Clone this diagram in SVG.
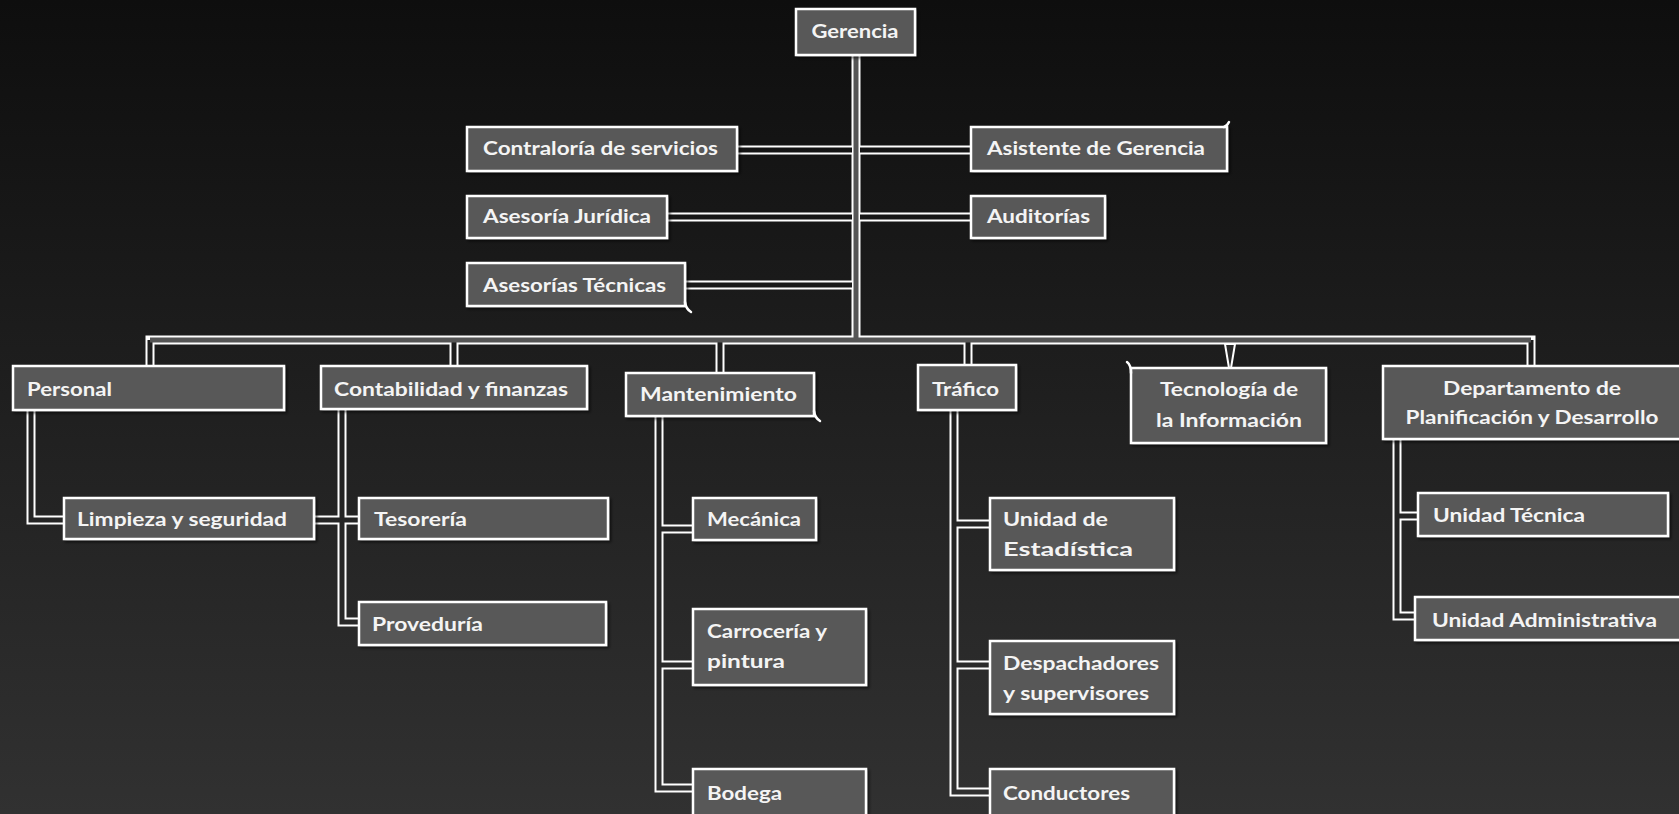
<svg xmlns="http://www.w3.org/2000/svg" width="1679" height="814" viewBox="0 0 1679 814">
<defs>
<linearGradient id="bg" gradientUnits="userSpaceOnUse" x1="0" y1="0" x2="0" y2="814">
<stop offset="0" stop-color="#0e0e0e"/>
<stop offset="1" stop-color="#313131"/>
</linearGradient>
<filter id="sh" x="-10%" y="-20%" width="130%" height="150%">
<feDropShadow dx="2" dy="2" stdDeviation="1.5" flood-color="#000" flood-opacity="0.6"/>
</filter>
</defs>
<style>
.box{fill:#595959;stroke:#ffffff;stroke-width:2.5;filter:url(#sh)}
.curl{fill:none;stroke:#ffffff;stroke-width:2.5;stroke-linecap:round}
.t{font-family:Lato,"Open Sans","Liberation Sans",sans-serif;font-weight:700;font-size:19px;fill:#f4f4f4}
.c{text-anchor:middle}
.out{fill:none;stroke:#ffffff;stroke-width:9;stroke-linejoin:miter}
.in{fill:none;stroke:url(#bg);stroke-width:5;stroke-linejoin:miter}
.ing{fill:none;stroke:#555555;stroke-width:5;stroke-linejoin:miter}
</style>
<rect x="0" y="0" width="1679" height="814" fill="url(#bg)"/>

<g id="connectors">
<g class="out">
<path d="M856 55 V340"/>
<path d="M150 367 V340 H1531 V367"/>
<path d="M454 340 V367"/>
<path d="M720 340 V373"/>
<path d="M968 340 V365"/>
<path d="M737 150 H856"/>
<path d="M856 150 H971"/>
<path d="M667 217 H856"/>
<path d="M856 217 H971"/>
<path d="M685 285 H856"/>
<path d="M31 410 V520 H64"/>
<path d="M314 520 H342"/>
<path d="M342 409 V622 H359"/>
<path d="M342 520 H359"/>
<path d="M659 416 V788 H693"/>
<path d="M659 529 H693"/>
<path d="M659 665 H693"/>
<path d="M954 410 V792 H990"/>
<path d="M954 524 H990"/>
<path d="M954 665 H990"/>
<path d="M1397 439 V616 H1415"/>
<path d="M1397 516 H1418"/>
</g>
<g class="in">
<path d="M454 340 V368"/>
<path d="M720 340 V374"/>
<path d="M968 340 V366"/>
<path d="M150 340 V368"/>
<path d="M1531 340 V368"/>
<path d="M737 150 H852"/>
<path d="M860 150 H972"/>
<path d="M667 217 H852"/>
<path d="M860 217 H972"/>
<path d="M685 285 H852"/>
<path d="M31 409 V520 H65"/>
<path d="M313 520 H342"/>
<path d="M342 408 V622 H360"/>
<path d="M342 520 H360"/>
<path d="M659 415 V788 H694"/>
<path d="M659 529 H694"/>
<path d="M659 665 H694"/>
<path d="M954 409 V792 H991"/>
<path d="M954 524 H991"/>
<path d="M954 665 H991"/>
<path d="M1397 438 V616 H1416"/>
<path d="M1397 516 H1419"/>
</g>
<g class="ing">
<path d="M856 54 V340"/>
<path d="M150 340 H1531"/>
</g>
<path d="M1225 344 L1229 368 L1231 368 L1235 344 Z" fill="#2a2a2a" stroke="#ffffff" stroke-width="2"/>
</g>

<g id="gerencia"><rect class="box" x="796" y="9" width="119" height="46"/><text class="t c" x="855" y="38" textLength="87" lengthAdjust="spacingAndGlyphs">Gerencia</text></g>
<g id="contraloria"><rect class="box" x="467" y="127" width="270" height="44"/><text class="t" x="483" y="155" textLength="235" lengthAdjust="spacingAndGlyphs">Contraloría de servicios</text></g>
<g id="asistente"><rect class="box" x="971" y="127" width="256" height="44"/><path class="curl" d="M1224 127 Q1227 126 1229 122"/><text class="t" x="987" y="155" textLength="218" lengthAdjust="spacingAndGlyphs">Asistente de Gerencia</text></g>
<g id="juridica"><rect class="box" x="467" y="196" width="200" height="42"/><text class="t" x="483" y="223" textLength="168" lengthAdjust="spacingAndGlyphs">Asesoría Jurídica</text></g>
<g id="auditorias"><rect class="box" x="971" y="196" width="134" height="42"/><text class="t" x="987" y="223" textLength="103" lengthAdjust="spacingAndGlyphs">Auditorías</text></g>
<g id="tecnicas"><rect class="box" x="467" y="263" width="218" height="43"/><path class="curl" d="M685 302 Q686 309 691 312"/><text class="t" x="483" y="292" textLength="183" lengthAdjust="spacingAndGlyphs">Asesorías Técnicas</text></g>

<g id="personal"><rect class="box" x="13" y="366" width="271" height="44"/><text class="t" x="27" y="396" textLength="85" lengthAdjust="spacingAndGlyphs">Personal</text></g>
<g id="contabilidad"><rect class="box" x="321" y="366" width="266" height="43"/><text class="t" x="334" y="396" textLength="234" lengthAdjust="spacingAndGlyphs">Contabilidad y finanzas</text></g>
<g id="mantenimiento"><rect class="box" x="626" y="373" width="188" height="43"/><path class="curl" d="M814 411 Q815 418 820 421"/><text class="t" x="640" y="401" textLength="157" lengthAdjust="spacingAndGlyphs">Mantenimiento</text></g>
<g id="trafico"><rect class="box" x="918" y="365" width="98" height="45"/><text class="t" x="932" y="396" textLength="67" lengthAdjust="spacingAndGlyphs">Tráfico</text></g>
<g id="tecnologia"><rect class="box" x="1131" y="368" width="195" height="75"/><path class="curl" d="M1131 373 Q1131 365 1127 362"/><text class="t c" x="1229" y="396" textLength="138" lengthAdjust="spacingAndGlyphs">Tecnología de</text><text class="t c" x="1229" y="427" textLength="146" lengthAdjust="spacingAndGlyphs">la Información</text></g>
<g id="departamento"><rect class="box" x="1383" y="366" width="305" height="73"/><text class="t c" x="1532" y="395" textLength="178" lengthAdjust="spacingAndGlyphs">Departamento de</text><text class="t c" x="1532" y="424" textLength="253" lengthAdjust="spacingAndGlyphs">Planificación y Desarrollo</text></g>

<g id="limpieza"><rect class="box" x="64" y="498" width="250" height="41"/><text class="t" x="77" y="526" textLength="210" lengthAdjust="spacingAndGlyphs">Limpieza y seguridad</text></g>
<g id="tesoreria"><rect class="box" x="359" y="498" width="249" height="41"/><text class="t" x="374" y="526" textLength="93" lengthAdjust="spacingAndGlyphs">Tesorería</text></g>
<g id="proveduria"><rect class="box" x="359" y="602" width="247" height="43"/><text class="t" x="372" y="631" textLength="111" lengthAdjust="spacingAndGlyphs">Proveduría</text></g>
<g id="mecanica"><rect class="box" x="693" y="498" width="123" height="42"/><text class="t" x="707" y="526" textLength="94" lengthAdjust="spacingAndGlyphs">Mecánica</text></g>
<g id="carroceria"><rect class="box" x="693" y="609" width="173" height="76"/><text class="t" x="707" y="638" textLength="120" lengthAdjust="spacingAndGlyphs">Carrocería y</text><text class="t" x="707" y="668" textLength="78" lengthAdjust="spacingAndGlyphs">pintura</text></g>
<g id="bodega"><rect class="box" x="693" y="769" width="173" height="60"/><text class="t" x="707" y="800" textLength="75" lengthAdjust="spacingAndGlyphs">Bodega</text></g>
<g id="estadistica"><rect class="box" x="990" y="498" width="184" height="72"/><text class="t" x="1003" y="526" textLength="105" lengthAdjust="spacingAndGlyphs">Unidad de</text><text class="t" x="1003" y="556" textLength="130" lengthAdjust="spacingAndGlyphs">Estadística</text></g>
<g id="despachadores"><rect class="box" x="990" y="641" width="184" height="73"/><text class="t" x="1003" y="670" textLength="156" lengthAdjust="spacingAndGlyphs">Despachadores</text><text class="t" x="1003" y="700" textLength="146" lengthAdjust="spacingAndGlyphs">y supervisores</text></g>
<g id="conductores"><rect class="box" x="990" y="769" width="184" height="60"/><text class="t" x="1003" y="800" textLength="127" lengthAdjust="spacingAndGlyphs">Conductores</text></g>
<g id="unidad-tecnica"><rect class="box" x="1418" y="493" width="250" height="43"/><text class="t" x="1433" y="522" textLength="152" lengthAdjust="spacingAndGlyphs">Unidad Técnica</text></g>
<g id="unidad-administrativa"><rect class="box" x="1415" y="597" width="275" height="43"/><text class="t" x="1432" y="627" textLength="225" lengthAdjust="spacingAndGlyphs">Unidad Administrativa</text></g>
</svg>
